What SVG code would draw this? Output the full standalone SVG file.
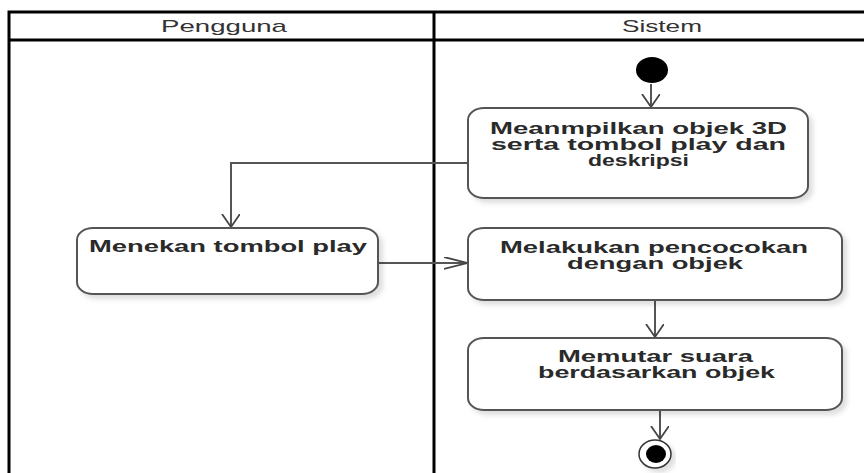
<svg xmlns="http://www.w3.org/2000/svg" width="864" height="473" viewBox="0 0 864 473">
<style>
.lane{fill:none;stroke:#000;stroke-width:3}
.hdr{font-family:"Liberation Sans",Arial,sans-serif;font-size:17px;fill:#333}
.box{fill:#fff;stroke:#555;stroke-width:2;filter:url(#sh)}
.lbl{font-family:"Liberation Sans",Arial,sans-serif;font-size:16px;font-weight:bold;fill:#2a2a2a}
.con{fill:none;stroke:#555;stroke-width:2}
</style>
<defs>
<filter id="sh" x="-10%" y="-10%" width="125%" height="140%">
<feDropShadow dx="4" dy="4" stdDeviation="2.5" flood-color="#000" flood-opacity="0.13"/>
</filter>
<marker id="arrV" markerUnits="userSpaceOnUse" markerWidth="16" markerHeight="22" refX="13" refY="9" orient="auto">
<path d="M0,0 L13,9 L0,18" fill="none" stroke="#444" stroke-width="1.8"/>
</marker>
<marker id="arrH" markerUnits="userSpaceOnUse" markerWidth="26" markerHeight="16" refX="23" refY="6" orient="auto">
<path d="M0,0 L23,6 L0,12" fill="none" stroke="#444" stroke-width="1.8"/>
</marker>
</defs>
<rect width="864" height="473" fill="#fff"/>
<g id="swimlanes">
<path class="lane" d="M9,473 L9,12 L866,12 M9,40 L866,40 M434,12 L434,473"/>
<text class="hdr" x="161" y="32" textLength="126" lengthAdjust="spacingAndGlyphs">Pengguna</text>
<text class="hdr" x="622" y="32" textLength="80" lengthAdjust="spacingAndGlyphs">Sistem</text>
</g>
<g id="connectors">
<path class="con" d="M651,84 L651,107" marker-end="url(#arrV)"/>
<path class="con" d="M468,163 L231,163 L231,227" marker-end="url(#arrV)"/>
<path class="con" d="M378,263 L467,263" marker-end="url(#arrH)"/>
<path class="con" d="M655,300 L655,337" marker-end="url(#arrV)"/>
<path class="con" d="M660,410 L660,439" marker-end="url(#arrV)"/>
</g>
<g id="start">
<ellipse cx="652" cy="70" rx="16" ry="13" fill="#000"/>
</g>
<g id="n1">
<rect class="box" x="468" y="108" width="340" height="90" rx="16" ry="12"/>
<text class="lbl" x="490" y="134" textLength="297" lengthAdjust="spacingAndGlyphs">Meanmpilkan objek 3D</text>
<text class="lbl" x="491" y="150" textLength="295" lengthAdjust="spacingAndGlyphs">serta tombol play dan</text>
<text class="lbl" x="588" y="166" textLength="101" lengthAdjust="spacingAndGlyphs">deskripsi</text>
</g>
<g id="n2">
<rect class="box" x="77" y="228" width="301" height="66" rx="16" ry="12"/>
<text class="lbl" x="89" y="252" textLength="278" lengthAdjust="spacingAndGlyphs">Menekan tombol play</text>
</g>
<g id="n3">
<rect class="box" x="468" y="228" width="374" height="72" rx="16" ry="12"/>
<text class="lbl" x="500" y="253" textLength="308" lengthAdjust="spacingAndGlyphs">Melakukan pencocokan</text>
<text class="lbl" x="567" y="269" textLength="176" lengthAdjust="spacingAndGlyphs">dengan objek</text>
</g>
<g id="n4">
<rect class="box" x="468" y="338" width="374" height="72" rx="16" ry="12"/>
<text class="lbl" x="558" y="362" textLength="195" lengthAdjust="spacingAndGlyphs">Memutar suara</text>
<text class="lbl" x="538" y="378" textLength="237" lengthAdjust="spacingAndGlyphs">berdasarkan objek</text>
</g>
<g id="end">
<ellipse cx="655" cy="454" rx="16" ry="14" fill="#fff" stroke="#333" stroke-width="1.5" filter="url(#sh)"/>
<ellipse cx="656" cy="454" rx="10" ry="9" fill="#000"/>
</g>
</svg>
